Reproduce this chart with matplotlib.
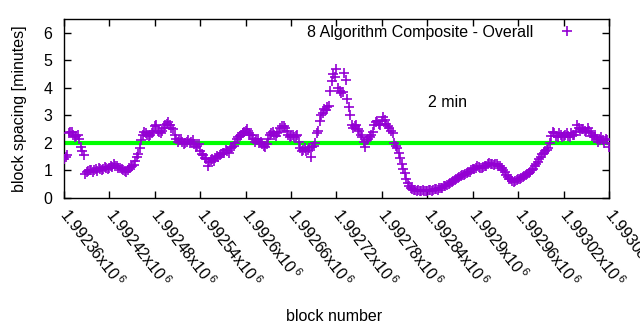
import numpy as np
import matplotlib
matplotlib.use("Agg")
import matplotlib.pyplot as plt

plt.rcParams['font.family'] = ['Liberation Sans', 'DejaVu Sans']
plt.rcParams['mathtext.fontset'] = 'custom'
plt.rcParams['mathtext.rm'] = 'Liberation Sans'
plt.rcParams['mathtext.it'] = 'Liberation Sans'

# block heights (offset from the first block) and spacing in minutes
base_block = 1992360
offsets_a = list(range(0, 724, 4))
spacing_a = [
    1.40, 1.55, 2.38, 2.30, 2.25, 2.15, 1.70, 0.88, 0.97, 1.00,
    1.02, 0.98, 1.05, 1.07, 1.10, 1.08, 1.12, 1.18, 1.10, 1.05,
    0.98, 1.02, 1.12, 1.20, 1.50, 1.80, 2.30, 2.35, 2.25, 2.35,
    2.60, 2.45, 2.35, 2.55, 2.70, 2.65, 2.50, 2.15, 2.10, 2.05,
    2.00, 2.10, 2.05, 1.95, 1.90, 1.70, 1.55, 1.40, 1.30, 1.42,
    1.45, 1.50, 1.60, 1.65, 1.70, 1.80, 1.90, 2.15, 2.25, 2.35,
    2.45, 2.35, 2.30, 2.05, 2.15, 2.05, 1.90, 1.95, 2.30, 2.40,
    2.25, 2.40, 2.60, 2.55, 2.30, 2.25, 2.20, 2.30, 1.80, 1.75,
    1.70, 1.80, 1.85, 2.00, 2.45, 3.00, 3.25, 3.30, 3.90, 4.50,
    4.70, 3.90, 3.85, 4.30, 3.30, 2.65, 2.60, 2.50, 2.30, 2.05,
    2.10, 2.20, 2.40, 2.75, 2.70, 2.80, 2.85, 2.60, 2.45, 2.00,
    1.80, 1.45, 1.05, 0.70, 0.45, 0.32, 0.30, 0.28, 0.27, 0.26,
    0.27, 0.28, 0.30, 0.32, 0.35, 0.38, 0.45, 0.50, 0.58, 0.65,
    0.72, 0.80, 0.85, 0.90, 0.95, 1.05, 1.10, 1.12, 1.10, 1.15,
    1.22, 1.25, 1.20, 1.22, 1.15, 1.00, 0.85, 0.70, 0.62, 0.60,
    0.68, 0.72, 0.80, 0.88, 0.95, 1.05, 1.25, 1.40, 1.60, 1.70,
    1.80, 2.25, 2.35, 2.20, 2.30, 2.25, 2.35, 2.20, 2.30, 2.40,
    2.55, 2.50, 2.45, 2.55, 2.35, 2.20, 2.15, 2.10, 2.10, 2.15,
    1.85,
]
offsets_b = list(range(2, 720, 4))
spacing_b = [
    1.50, 2.35, 2.40, 2.22, 2.28, 1.85, 1.55, 0.95, 1.02, 0.95,
    1.05, 1.08, 1.02, 1.12, 1.05, 1.15, 1.22, 1.15, 1.08, 1.02,
    0.95, 1.08, 1.15, 1.35, 1.60, 2.10, 2.40, 2.28, 2.30, 2.45,
    2.65, 2.40, 2.45, 2.65, 2.75, 2.55, 2.30, 2.05, 2.15, 1.95,
    2.05, 2.00, 2.10, 1.85, 1.95, 1.60, 1.45, 1.15, 1.38, 1.35,
    1.52, 1.55, 1.62, 1.75, 1.65, 1.85, 2.00, 2.20, 2.30, 2.40,
    2.50, 2.30, 2.15, 2.10, 2.00, 1.95, 1.85, 2.15, 2.35, 2.30,
    2.35, 2.55, 2.62, 2.45, 2.20, 2.30, 2.25, 2.05, 1.70, 1.80,
    1.75, 1.50, 1.90, 2.35, 2.80, 3.10, 3.20, 3.35, 4.25, 4.40,
    4.00, 3.80, 4.55, 3.60, 3.00, 2.55, 2.65, 2.45, 2.20, 1.85,
    2.15, 2.30, 2.65, 2.80, 2.65, 2.95, 2.70, 2.55, 2.35, 1.90,
    1.65, 1.25, 0.90, 0.55, 0.35, 0.30, 0.27, 0.25, 0.28, 0.24,
    0.30, 0.27, 0.33, 0.30, 0.37, 0.42, 0.48, 0.55, 0.60, 0.70,
    0.75, 0.85, 0.88, 0.95, 1.00, 1.05, 1.15, 1.08, 1.12, 1.18,
    1.28, 1.22, 1.25, 1.18, 1.10, 0.95, 0.75, 0.68, 0.58, 0.65,
    0.70, 0.78, 0.85, 0.90, 1.00, 1.15, 1.30, 1.50, 1.65, 1.75,
    2.00, 2.40, 2.25, 2.35, 2.20, 2.30, 2.25, 2.35, 2.30, 2.65,
    2.45, 2.50, 2.40, 2.45, 2.25, 2.30, 2.05, 2.20, 2.00, 2.10,
]
target_minutes = 2
series_label = "8 Algorithm Composite - Overall"
note_text = "2 min"
x_ticks = [1992360, 1992420, 1992480, 1992540, 1992600, 1992660,
           1992720, 1992780, 1992840, 1992900, 1992960, 1993020, 1993080]
x_tick_labels = ["1.99236x10$^{\\,6}$", "1.99242x10$^{\\,6}$", "1.99248x10$^{\\,6}$",
                 "1.99254x10$^{\\,6}$", "1.9926x10$^{\\,6}$", "1.99266x10$^{\\,6}$",
                 "1.99272x10$^{\\,6}$", "1.99278x10$^{\\,6}$", "1.99284x10$^{\\,6}$",
                 "1.9929x10$^{\\,6}$", "1.99296x10$^{\\,6}$", "1.99302x10$^{\\,6}$",
                 "1.99308x10$^{\\,6}$"]
y_ticks = [0, 1, 2, 3, 4, 5, 6]

n_a = min(len(offsets_a), len(spacing_a))
n_b = min(len(offsets_b), len(spacing_b))
blocks = np.concatenate([np.array(offsets_a[:n_a]), np.array(offsets_b[:n_b])]) + base_block
values = np.concatenate([np.array(spacing_a[:n_a]), np.array(spacing_b[:n_b])])
order = np.argsort(blocks)
blocks, values = blocks[order], values[order]

FS = 11.5
fig = plt.figure(figsize=(6.4, 3.3), dpi=100)
ax = fig.add_axes([64 / 640, 1 - 198 / 330, 545 / 640, 179 / 330])

ax.plot(blocks, values, linestyle='none', marker='+', markersize=6.5,
        markeredgewidth=1.2, color='#9400D3', label=series_label, zorder=3)
ax.plot([blocks[2], blocks[-3]], [target_minutes, target_minutes],
        color='#00FF00', linewidth=3, zorder=2)

ax.set_xlim(x_ticks[0], x_ticks[-1])
ax.set_ylim(0, 6.5)
ax.set_yticks(y_ticks)
ax.set_xticks(x_ticks)
ax.set_xticklabels(x_tick_labels, rotation=-52, ha='left', va='center',
                   rotation_mode='anchor', fontsize=FS)
ax.tick_params(axis='both', direction='in', top=True, right=True,
               length=5, width=1, labelsize=FS)
ax.tick_params(axis='y', pad=8.5)
ax.tick_params(axis='x', pad=9)
for s in ax.spines.values():
    s.set_linewidth(1)

ax.set_ylabel("block spacing [minutes]", fontsize=FS)
ax.yaxis.set_label_coords(-0.068, 0.5)
ax.set_xlabel("block number", fontsize=FS)
ax.xaxis.set_label_coords(0.495, -0.62)

ax.text(1992866, 3.47, note_text, fontsize=FS, ha='center', va='center')

leg = ax.legend(loc='upper right', bbox_to_anchor=(0.9596, 0.966),
                frameon=False, fontsize=FS, markerfirst=False,
                handlelength=2.5, handletextpad=0.875,
                borderpad=0, borderaxespad=0)

fig.savefig("out.png", dpi=100)
